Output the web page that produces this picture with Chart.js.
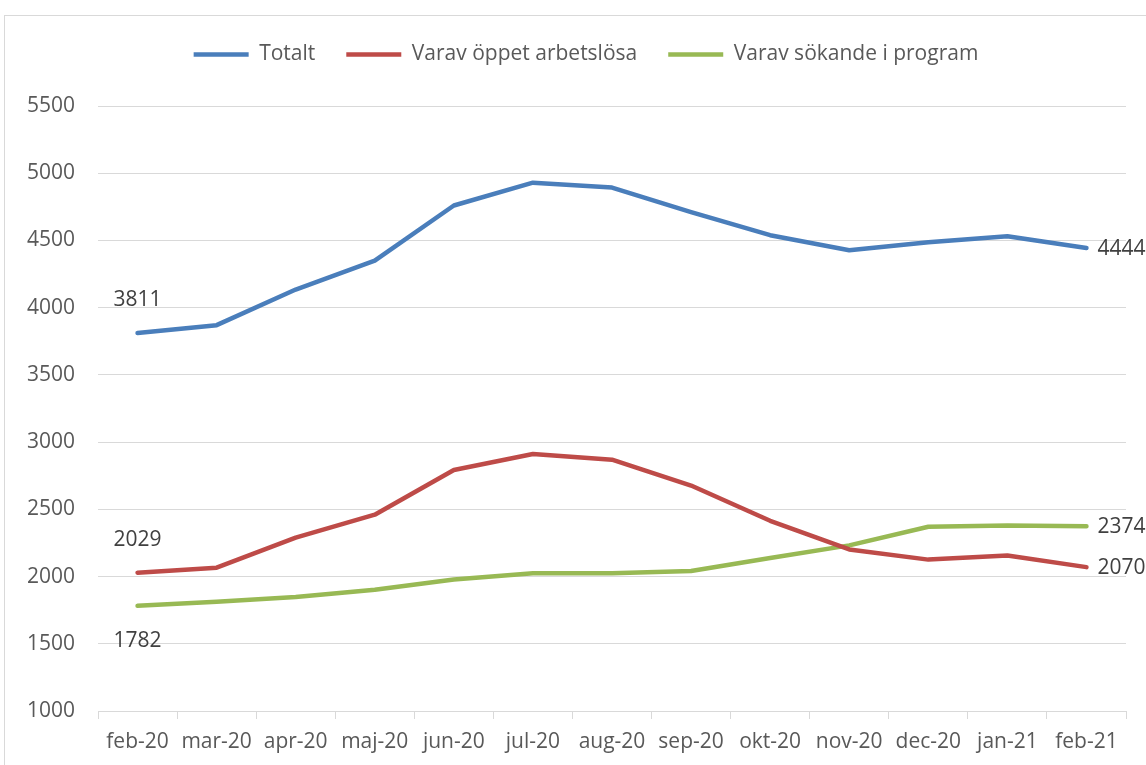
<!DOCTYPE html>
<html>
<head>
<meta charset="utf-8">
<script src="https://cdn.jsdelivr.net/npm/chart.js@4/dist/chart.umd.min.js"></script>
<style>
  html, body { margin: 0; padding: 0; background: #ffffff; }
  #wrap { position: relative; width: 1146px; height: 765px; overflow: hidden; }
  #frame { position: absolute; left: 4px; top: 15px; width: 1200px; height: 800px; border: 1px solid #d9d9d9; box-sizing: border-box; }
  #c { position: absolute; left: 0; top: 0; }
</style>
</head>
<body>
<div id="wrap">
  <div id="frame"></div>
  <canvas id="c" width="1146" height="765"></canvas>
</div>
<script>
const categories = ['feb-20','mar-20','apr-20','maj-20','jun-20','jul-20','aug-20','sep-20','okt-20','nov-20','dec-20','jan-21','feb-21'];
const totalt =      [3811, 3870, 4135, 4350, 4760, 4930, 4893, 4710, 4539, 4427, 4487, 4531, 4444];
const oppet =       [2029, 2066, 2290, 2460, 2793, 2912, 2869, 2677, 2415, 2202, 2126, 2157, 2070];
const program =     [1782, 1812, 1848, 1902, 1978, 2024, 2024, 2042, 2138, 2232, 2370, 2380, 2374];
const seriesNames = ['Totalt', 'Varav öppet arbetslösa', 'Varav sökande i program'];
const yTicks = [1000, 1500, 2000, 2500, 3000, 3500, 4000, 4500, 5000, 5500];

const FONT = '"Open Sans"';
const TEXT = '#595959';

const legendGap = {
  id: 'legendGap',
  beforeLayout(chart) {
    const lg = chart.legend;
    if (lg && !lg._gapPatched) {
      const origFit = lg.fit;
      lg.fit = function () { origFit.call(this); this.height += 31; };
      const origDraw = lg.draw;
      lg.draw = function () {
        const l = this.left, r = this.right;
        this.left = l + 23; this.right = r + 23;
        origDraw.call(this);
        this.left = l; this.right = r;
      };
      lg._gapPatched = true;
    }
  }
};

const endLabels = {
  id: 'endLabels',
  afterDatasetsDraw(chart) {
    const ctx = chart.ctx;
    ctx.save();
    ctx.font = '21px ' + FONT;
    ctx.fillStyle = '#404040';
    ctx.textBaseline = 'middle';
    const firstPos = ['above', 'above', 'below'];
    chart.data.datasets.forEach((ds, i) => {
      const meta = chart.getDatasetMeta(i);
      const p0 = meta.data[0];
      const pn = meta.data[meta.data.length - 1];
      ctx.textAlign = 'center';
      const dy = firstPos[i] === 'above' ? -33 : 35;
      ctx.fillText(String(ds.data[0]), p0.x, p0.y + dy);
      ctx.textAlign = 'left';
      ctx.fillText(String(ds.data[ds.data.length - 1]), pn.x + 11, pn.y + 1);
    });
    ctx.restore();
  }
};

const colors = ['#4a7ebb', '#be4b48', '#98b954'];
const seriesData = [totalt, oppet, program];

new Chart(document.getElementById('c'), {
  type: 'line',
  data: {
    labels: categories,
    datasets: seriesNames.map((name, i) => ({
      label: name,
      data: seriesData[i],
      borderColor: colors[i],
      backgroundColor: colors[i],
      borderWidth: 4.5,
      borderCapStyle: 'round',
      borderJoinStyle: 'round',
      pointRadius: 0,
      pointHoverRadius: 0,
      tension: 0,
      fill: false
    }))
  },
  options: {
    responsive: false,
    devicePixelRatio: 1,
    animation: false,
    layout: { padding: { top: 13, right: 20, bottom: 0, left: 0 } },
    plugins: {
      tooltip: { enabled: false },
      legend: {
        position: 'top',
        align: 'center',
        labels: {
          usePointStyle: true,
          pointStyle: 'line',
          pointStyleWidth: 55,
          boxHeight: 5,
          padding: 31,
          color: TEXT,
          font: { family: FONT, size: 21 }
        }
      }
    },
    scales: {
      x: {
        type: 'category',
        offset: true,
        grid: { offset: true, drawOnChartArea: false, drawTicks: true, tickLength: 8, color: '#d9d9d9' },
        border: { display: true, color: '#d9d9d9', width: 1 },
        ticks: { color: TEXT, font: { family: FONT, size: 21, lineHeight: 1.0 }, padding: 12.5, autoSkip: false, maxRotation: 0, minRotation: 0 }
      },
      y: {
        min: 1000,
        max: 5500,
        afterFit(scale) { scale.width = 98; },
        afterBuildTicks(scale) { scale.ticks = yTicks.map(v => ({ value: v })); },
        grid: { color: '#d9d9d9', lineWidth: 1, drawTicks: false },
        border: { display: false },
        ticks: { color: TEXT, font: { family: FONT, size: 21 }, padding: 23, callback: (v) => String(v) }
      }
    }
  },
  plugins: [legendGap, endLabels]
});
</script>
</body>
</html>
